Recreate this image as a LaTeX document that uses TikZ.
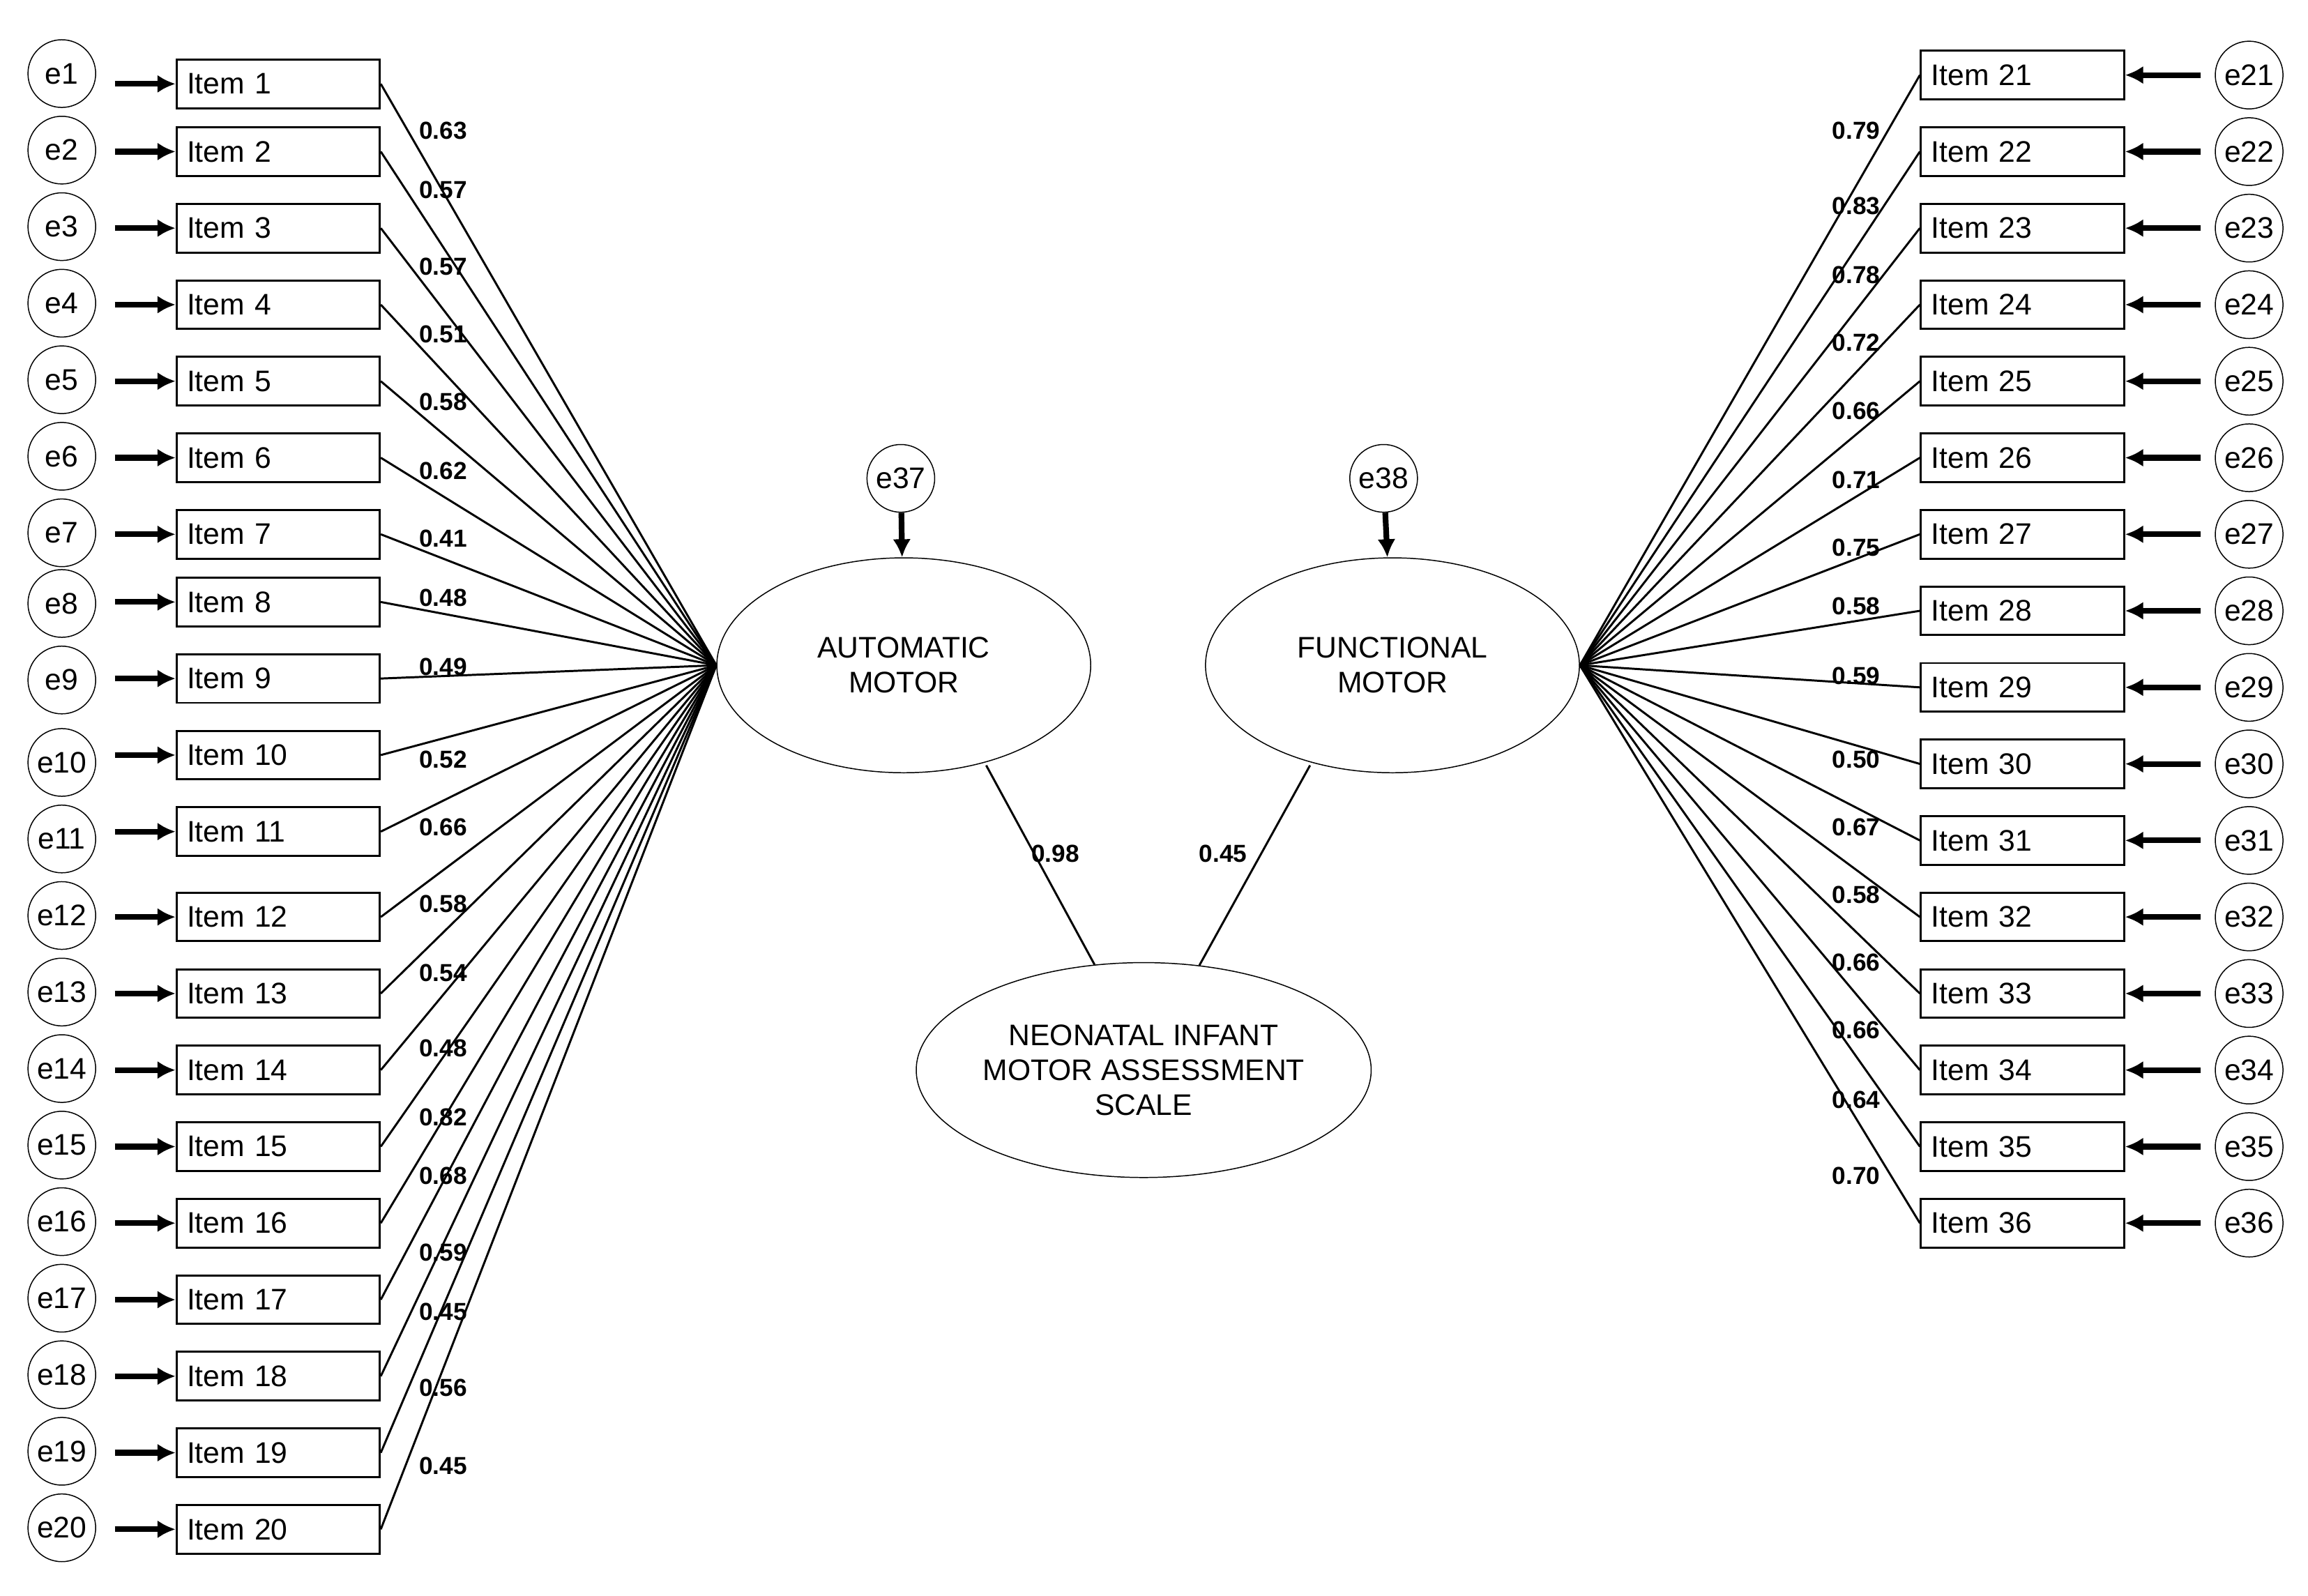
\documentclass[tikz,border=0pt]{standalone}
\usepackage{fontspec}
\setmainfont{Liberation Sans}
\usetikzlibrary{arrows.meta,shapes.geometric}
\begin{document}
\begin{tikzpicture}[x=0.02cm,y=-0.02cm,
 item/.style={draw,thick,minimum width=138*0.02cm,minimum height=33*0.02cm,inner sep=0pt,font=\fontsize{11.5}{12}\selectfont,text width=124*0.02cm,align=left},
 err/.style={draw,circle,minimum size=46*0.02cm,inner sep=0pt,font=\fontsize{11.5}{12}\selectfont},
 lat/.style={draw,ellipse,minimum width=254*0.02cm,minimum height=146*0.02cm,inner sep=0pt,align=center,font=\fontsize{11.5}{13.5}\selectfont},
 ld/.style={font=\bfseries\fontsize{9.5}{10}\selectfont},
 arr/.style={line width=2.2pt,-{Latex[length=7pt,width=7pt]}}]
\useasboundingbox (0,0) rectangle (1568,1084);
\node[lat] (A) at (614,452) {AUTOMATIC\\MOTOR};
\node[lat] (F) at (946,452) {FUNCTIONAL\\MOTOR};
\node[lat] (N) at (777,727) {NEONATAL INFANT\\MOTOR ASSESSMENT\\SCALE};
\node[err] (e37) at (612,325) {e37};
\node[err] (e38) at (940,325) {e38};
\draw[arr] (e37) -- (A);
\draw[arr] (e38) -- (F);
\coordinate (a1) at (670,520); \coordinate (f1) at (890,520);
\draw[thick] (a1) -- (N.115);
\draw[thick] (f1) -- (N.62);
\node[ld] at (717,580) {0.98};
\node[ld] at (831,580) {0.45};
\foreach \i/\y/\ey/\l/\ly in {1/57/50/0.63/89,2/103/102/0.57/129,3/155/154/0.57/181,4/207/206/0.51/227,5/259/258/0.58/273,6/311/310/0.62/320,7/363/362/0.41/366,8/409/410/0.48/406,9/461/462/0.49/453,10/513/518/0.52/516,11/565/570/0.66/562,12/623/622/0.58/614,13/675/674/0.54/661,14/727/726/0.48/712,15/779/778/0.82/759,16/831/830/0.68/799,17/883/882/0.59/851,18/935/934/0.45/891,19/987/986/0.56/943,20/1039/1038/0.45/996}{
 \node[item] (i\i) at (189,\y) {Item \i};
 \node[err] (e\i) at (42,\ey) {e\i};
 \draw[arr] (78,\y) -- (i\i.west);
 \draw[thick] (i\i.east) -- (A.west);
 \node[ld] at (301,\ly) {\l};
}
\foreach \i/\y/\l/\ly in {21/51/0.79/89,22/103/0.83/140,23/155/0.78/187,24/207/0.72/233,25/259/0.66/279,26/311/0.71/326,27/363/0.75/372,28/415/0.58/412,29/467/0.59/459,30/519/0.50/516,31/571/0.67/562,32/623/0.58/608,33/675/0.66/654,34/727/0.66/700,35/779/0.64/747,36/831/0.70/799}{
 \node[item] (i\i) at (1374,\y) {Item \i};
 \node[err] (e\i) at (1528,\y) {e\i};
 \draw[arr] (1495,\y) -- (i\i.east);
 \draw[thick] (i\i.west) -- (F.east);
 \node[ld] at (1261,\ly) {\l};
}
\end{tikzpicture}
\end{document}
